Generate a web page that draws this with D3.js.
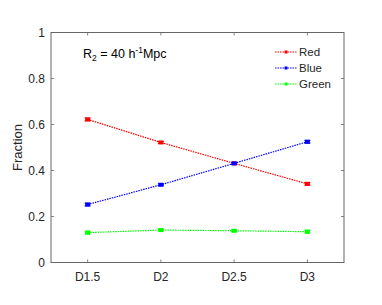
<!DOCTYPE html>
<html><head><meta charset="utf-8">
<script src="https://cdn.jsdelivr.net/npm/d3@7"></script>
<style>body{margin:0;background:#fff}svg{display:block}text{font-family:"Liberation Sans",Arial,sans-serif}</style>
</head><body>
<svg id="c" width="382" height="305"></svg>
<script>
const categories = ["D1.5","D2","D2.5","D3"];
const redValues = [0.622, 0.522, 0.431, 0.342];
const blueValues = [0.252, 0.338, 0.431, 0.525];
const greenValues = [0.130, 0.141, 0.138, 0.134];
const errValues = [0.006, 0.004, 0.004, 0.006];
const seriesNames = ["Red","Blue","Green"];
const seriesColors = ["#ff0000","#0000ff","#00ff00"];
const yTicks = [0,0.2,0.4,0.6,0.8,1];

const svg = d3.select("#c");
const L=51,R=344,T=32.5,B=262.5;
const x = d3.scaleBand().domain(categories).range([L,R]);
const y = d3.scaleLinear().domain([0,1]).range([B,T]);
const cx = d => x(d)+x.bandwidth()/2;
const axisCol = "#262626";
const boxCol = "#666";

// box
svg.append("rect").attr("x",L).attr("y",T).attr("width",R-L).attr("height",B-T)
  .attr("fill","none").attr("stroke",boxCol).attr("stroke-width",1);

// y ticks
const yAx = svg.append("g");
yTicks.forEach(t=>{
  yAx.append("line").attr("x1",L).attr("x2",L+3).attr("y1",y(t)).attr("y2",y(t)).attr("stroke",boxCol).attr("stroke-width",0.8);
  yAx.append("line").attr("x1",R).attr("x2",R-3).attr("y1",y(t)).attr("y2",y(t)).attr("stroke",boxCol).attr("stroke-width",0.8);
  yAx.append("text").attr("x",L-6).attr("y",y(t)).attr("dy","0.35em").attr("text-anchor","end")
    .attr("font-size",12).attr("fill",axisCol).text(d3.format("~g")(t));
});
// x ticks
categories.forEach(c=>{
  svg.append("line").attr("x1",cx(c)).attr("x2",cx(c)).attr("y1",B).attr("y2",B-3).attr("stroke",boxCol).attr("stroke-width",0.8);
  svg.append("line").attr("x1",cx(c)).attr("x2",cx(c)).attr("y1",T).attr("y2",T+3).attr("stroke",boxCol).attr("stroke-width",0.8);
  svg.append("text").attr("x",cx(c)).attr("y",B+18).attr("text-anchor","middle")
    .attr("font-size",12).attr("fill",axisCol).text(c);
});

// y label
svg.append("text").attr("transform",`translate(22,${(T+B)/2}) rotate(-90)`).attr("text-anchor","middle")
  .attr("font-size",13).attr("fill",axisCol).text("Fraction");

// series
const allSeries = [redValues, blueValues, greenValues];
const line = d3.line().x((d,i)=>cx(categories[i])).y(d=>y(d));
allSeries.forEach((vals,si)=>{
  const col = seriesColors[si];
  const g = svg.append("g");
  g.append("path").attr("d",line(vals)).attr("fill","none").attr("stroke",col)
    .attr("stroke-width",1.2).attr("stroke-dasharray","1.5,1");
  vals.forEach((v,i)=>{
    const px = cx(categories[i]);
    const e = errValues[i];
    g.append("line").attr("x1",px).attr("x2",px).attr("y1",y(v-e)).attr("y2",y(v+e)).attr("stroke",col).attr("stroke-width",1);
    [v-e,v+e].forEach(w=>g.append("line").attr("x1",px-3).attr("x2",px+3).attr("y1",y(w)).attr("y2",y(w)).attr("stroke",col).attr("stroke-width",1));
    g.append("rect").attr("x",px-2.5).attr("y",y(v)-2).attr("width",5).attr("height",4).attr("fill",col);
  });
});

// legend
seriesNames.forEach((n,i)=>{
  const ly = 52 + i*16;
  svg.append("line").attr("x1",275).attr("x2",297).attr("y1",ly).attr("y2",ly).attr("stroke",seriesColors[i])
    .attr("stroke-width",1.2).attr("stroke-dasharray","1.5,1");
  svg.append("rect").attr("x",284.5).attr("y",ly-1.5).attr("width",3).attr("height",3).attr("fill",seriesColors[i]);
  svg.append("text").attr("x",299).attr("y",ly).attr("dy","0.35em").attr("font-size",11.5).attr("fill",axisCol).text(n);
});

// annotation
const ann = svg.append("text").attr("x",83).attr("y",58).attr("font-size",12.5).attr("fill","#000");
ann.append("tspan").text("R");
ann.append("tspan").attr("font-size",8.5).attr("dy",3).text("2");
ann.append("tspan").attr("dy",-3).text(" = 40 h");
ann.append("tspan").attr("font-size",8.5).attr("dy",-5).text("-1");
ann.append("tspan").attr("dy",5).text("Mpc");
</script>
</body></html>
